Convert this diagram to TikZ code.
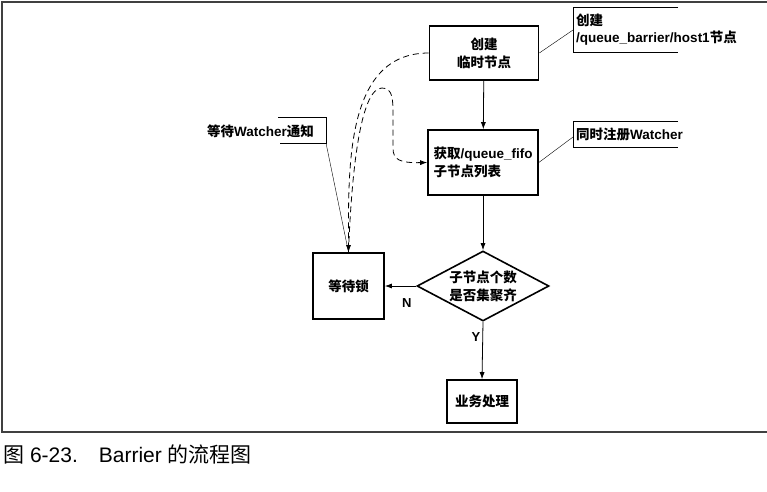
\documentclass[tikz,border=0pt]{standalone}
\usepackage{fontspec}
\setmainfont{Liberation Sans}
\newfontfamily\zhfont{Noto Sans CJK SC}
\newcommand{\zh}[1]{{\zhfont #1}}
\usetikzlibrary{shapes.geometric,arrows.meta}

\begin{document}
\begin{tikzpicture}[x=1pt,y=-1pt,
    box/.style={draw,line width=1.6pt,inner sep=2pt,align=center,font=\bfseries\fontsize{13.5}{18}\selectfont},
    decision/.style={draw,diamond,aspect=1.9,line width=1.6pt,inner sep=0pt,minimum width=132pt,minimum height=70pt,align=center,font=\bfseries\fontsize{13.5}{18}\selectfont},
    flow/.style={-{Latex[length=7pt,width=5pt]},line width=0.8pt},
    retry/.style={flow,dash pattern=on 6pt off 4pt},
    note/.style={anchor=west,align=left,inner sep=1pt,font=\bfseries\fontsize{13.5}{17}\selectfont},
    lbl/.style={inner sep=1pt,font=\bfseries\fontsize{13}{15}\selectfont}
]
    \useasboundingbox (0,0) rectangle (767,491);

    % frame and caption
    \draw[line width=1.2pt,black!75] (767,2) -- (2,2) -- (2,432) -- (767,432);
    \node[anchor=west,inner sep=0pt,font=\fontsize{21}{23}\selectfont] (cap) at (3,454) {\zh{图} 6-23.\quad Barrier \zh{的流程图}};

    % flow steps
    \node[box,minimum width=109pt,minimum height=54pt] (tmp) at (484,53) {\zh{创建}\\\zh{临时节点}};
    \node[box,minimum width=110pt,minimum height=65pt,align=left] (list) at (483,162.5) {\zh{获取}/queue\_fifo\\\zh{子节点列表}};
    \node[decision] (check) at (483,286) {\zh{子节点个数}\\\zh{是否集聚齐}};
    \node[box,minimum width=71pt,minimum height=66pt] (wait) at (348.5,286) {\zh{等待锁}};
    \node[box,minimum width=70pt,minimum height=43pt] (biz) at (482,401.5) {\zh{业务处理}};

    \draw[flow] (tmp) -- (list);
    \draw[flow] (list) -- (check);
    \draw[flow] (check.west) -- (wait.east) node[lbl,pos=0.3,below=11pt] {N};
    \draw[flow] (check.south) -- (biz.north) node[lbl,pos=0.27,left=1pt] {Y};

    % dashed waiting loop
    \draw[retry] (tmp.west) to[out=180,in=90] (wait.north);
    \draw[retry] (wait.north) .. controls (352,160) and (362,88) .. (382,88)
        .. controls (393,88) and (393,100) .. (393,115) -- (393,148)
        .. controls (393,160) and (400,163) .. (list.west);

    % notes
    \node[note] (n1) at (575,30) {\zh{创建}\\/queue\_barrier/host1\zh{节点}};
    \draw (678,7) -- (573,7) -- (573,52) -- (678,52); % bracket
    \coordinate (p1) at (573,30);
    \draw (tmp.east) -- (p1);

    \node[note] (n2) at (575,134) {\zh{同时注册}Watcher};
    \draw (678,121) -- (573,121) -- (573,147) -- (678,147); % bracket
    \coordinate (p2) at (573,137);
    \draw (list.east) -- (p2);

    \node[note,anchor=east] (n3) at (315,131) {\zh{等待}Watcher\zh{通知}};
    \draw (278,117) -- (326,117) -- (326,143) -- (280,143); % bracket
    \coordinate (p3) at (326,143);
    \draw (p3) -- (wait.north);
\end{tikzpicture}
\end{document}
